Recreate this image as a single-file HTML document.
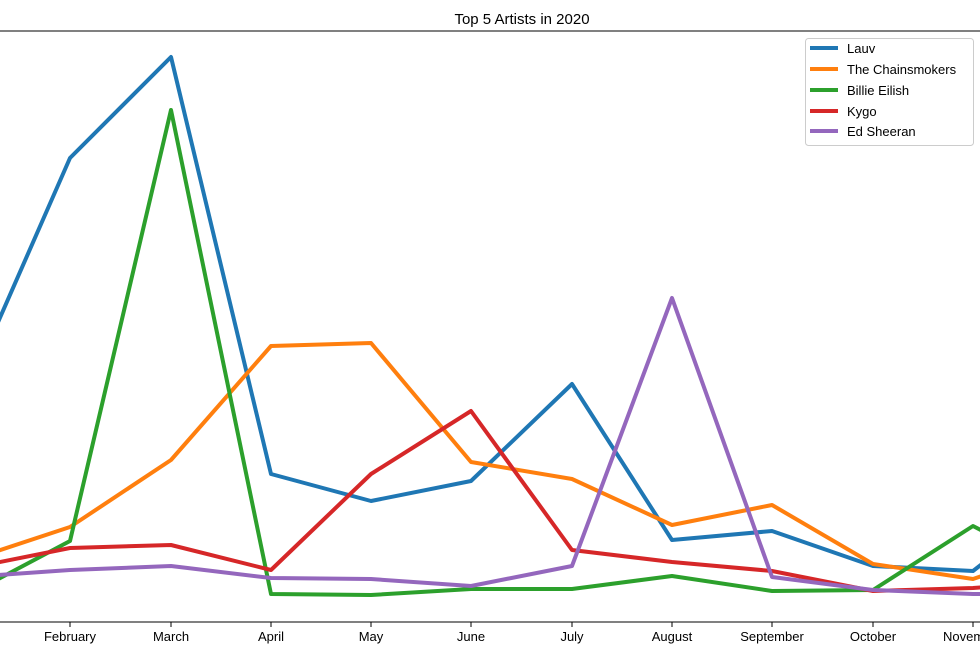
<!DOCTYPE html>
<html><head><style>body{margin:0;background:#fff}svg{display:block}</style></head><body>
<svg width="980" height="662" xmlns="http://www.w3.org/2000/svg" font-family="Liberation Sans, DejaVu Sans, sans-serif">
<rect width="980" height="662" fill="#fff"/>
<text x="522" y="24" font-size="15" text-anchor="middle" fill="#000">Top 5 Artists in 2020</text>
<line x1="0" y1="31" x2="980" y2="31" stroke="#000" stroke-width="1"/>
<line x1="0" y1="622" x2="980" y2="622" stroke="#000" stroke-width="1"/>
<g stroke="#000" stroke-width="1">
<line x1="70" y1="622" x2="70" y2="627"/><line x1="171" y1="622" x2="171" y2="627"/><line x1="271" y1="622" x2="271" y2="627"/><line x1="371" y1="622" x2="371" y2="627"/><line x1="471" y1="622" x2="471" y2="627"/><line x1="572" y1="622" x2="572" y2="627"/><line x1="672" y1="622" x2="672" y2="627"/><line x1="772" y1="622" x2="772" y2="627"/><line x1="873" y1="622" x2="873" y2="627"/><line x1="973" y1="622" x2="973" y2="627"/>
</g>
<g font-size="13" text-anchor="middle" fill="#000">
<text x="70" y="641">February</text><text x="171" y="641">March</text><text x="271" y="641">April</text><text x="371" y="641">May</text><text x="471" y="641">June</text><text x="572" y="641">July</text><text x="672" y="641">August</text><text x="772" y="641">September</text><text x="873" y="641">October</text><text x="973" y="641">November</text>
</g>
<g fill="none" stroke-width="4" stroke-linejoin="round">
<polyline stroke="#1f77b4" points="-30,386 70,158 171,57 271,474 371,501 471,481 572,384 672,540 772,531 873,566 973,571 1000,550"/>
<polyline stroke="#ff7f0e" points="-30,560 70,527 171,460 271,346 371,343 471,462 572,479 672,525 772,505 873,564 973,579 1000,570"/>
<polyline stroke="#2ca02c" points="-30,594 70,541 171,110 271,594 371,595 471,589 572,589 672,576 772,591 873,590 973,526 1000,540"/>
<polyline stroke="#d62728" points="-30,568 70,548 171,545 271,570 371,474 471,411 572,550 672,562 772,571 873,591 973,588 1000,586"/>
<polyline stroke="#9467bd" points="-30,577 70,570 171,566 271,578 371,579 471,586 572,566 672,298 772,577 873,590 973,594 1000,594"/>
</g>
<rect x="805.5" y="38.5" width="168" height="107" rx="3" fill="#fff" fill-opacity="0.8" stroke="#ccc"/>
<g stroke-width="4">
<line x1="810" y1="48" x2="838" y2="48" stroke="#1f77b4"/>
<line x1="810" y1="69" x2="838" y2="69" stroke="#ff7f0e"/>
<line x1="810" y1="90" x2="838" y2="90" stroke="#2ca02c"/>
<line x1="810" y1="111" x2="838" y2="111" stroke="#d62728"/>
<line x1="810" y1="131" x2="838" y2="131" stroke="#9467bd"/>
</g>
<g font-size="13" fill="#000">
<text x="847" y="53">Lauv</text><text x="847" y="74">The Chainsmokers</text><text x="847" y="95">Billie Eilish</text><text x="847" y="116">Kygo</text><text x="847" y="136">Ed Sheeran</text>
</g>
</svg>
</body></html>
